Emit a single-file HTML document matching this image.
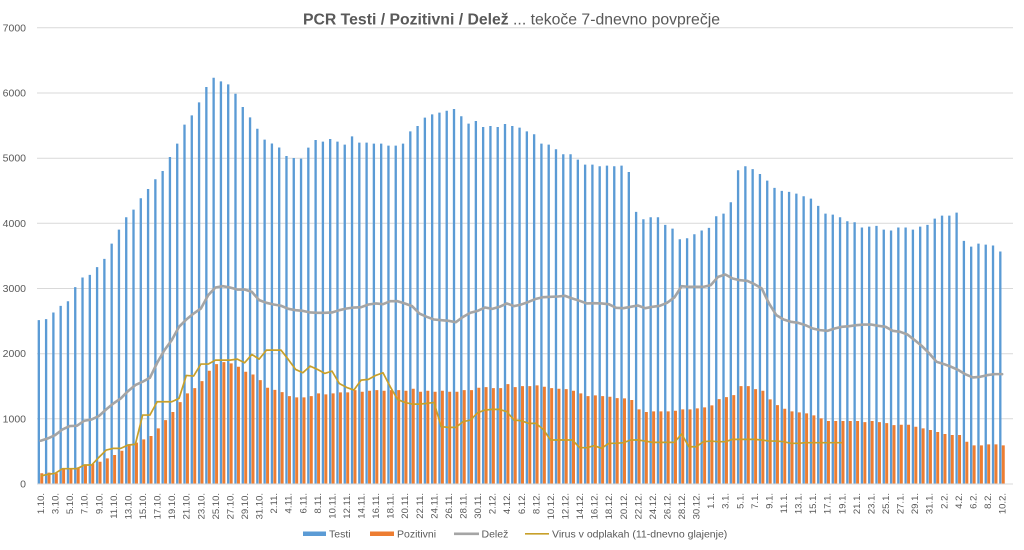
<!DOCTYPE html>
<html>
<head>
<meta charset="utf-8">
<style>
html,body{margin:0;padding:0;background:#fff;}
svg{display:block;font-family:"Liberation Sans",sans-serif;}
</style>
</head>
<body>
<svg width="1024" height="550" viewBox="0 0 1024 550" xmlns="http://www.w3.org/2000/svg">
<rect width="1024" height="550" fill="#fff"/>
<text x="303" y="24.5" font-size="15.5" fill="#595959" textLength="417" lengthAdjust="spacingAndGlyphs"><tspan font-weight="bold">PCR Testi / Pozitivni / Delež</tspan> ... tekoče 7-dnevno povprečje</text>
<g stroke="#d9d9d9" stroke-width="1">
<line x1="37" x2="1013" y1="27.8" y2="27.8"/>
<line x1="37" x2="1013" y1="93" y2="93"/>
<line x1="37" x2="1013" y1="158.2" y2="158.2"/>
<line x1="37" x2="1013" y1="223.3" y2="223.3"/>
<line x1="37" x2="1013" y1="288.5" y2="288.5"/>
<line x1="37" x2="1013" y1="353.7" y2="353.7"/>
<line x1="37" x2="1013" y1="418.8" y2="418.8"/>
</g>
<g font-size="10.5" fill="#595959" text-anchor="end">
<text x="26" y="487.5">0</text>
<text x="26" y="422.3">1000</text>
<text x="26" y="357.2">2000</text>
<text x="26" y="292">3000</text>
<text x="26" y="226.8">4000</text>
<text x="26" y="161.7">5000</text>
<text x="26" y="96.5">6000</text>
<text x="26" y="31.3">7000</text>
</g>
<g transform="translate(37,484) scale(7.284,-0.06517)">
<path fill="#5B9BD5" d="M0.09,0v2514h.32v-2514m.68,0v2530h.32v-2530m.68,0v2632h.32v-2632m.68,0v2734h.32v-2734m.68,0v2805h.32v-2805m.68,0v3020h.32v-3020m.68,0v3168h.32v-3168m.68,0v3209h.32v-3209m.68,0v3327h.32v-3327m.68,0v3454h.32v-3454m.68,0v3689h.32v-3689m.68,0v3904h.32v-3904m.68,0v4093h.32v-4093m.68,0v4211h.32v-4211m.68,0v4384h.32v-4384m.68,0v4527h.32v-4527m.68,0v4676h.32v-4676m.68,0v4803h.32v-4803m.68,0v5018h.32v-5018m.68,0v5222h.32v-5222m.68,0v5514h.32v-5514m.68,0v5657h.32v-5657m.68,0v5856h.32v-5856m.68,0v6091h.32v-6091m.68,0v6234h.32v-6234m.68,0v6178h.32v-6178m.68,0v6132h.32v-6132m.68,0v5989h.32v-5989m.68,0v5785h.32v-5785m.68,0v5626h.32v-5626m.68,0v5452h.32v-5452m.68,0v5284h.32v-5284m.68,0v5225h.32v-5225m.68,0v5164h.32v-5164m.68,0v5033h.32v-5033m.68,0v5003h.32v-5003m.68,0v4993h.32v-4993m.68,0v5161h.32v-5161m.68,0v5279h.32v-5279m.68,0v5253h.32v-5253m.68,0v5294h.32v-5294m.68,0v5253h.32v-5253m.68,0v5207h.32v-5207m.68,0v5335h.32v-5335m.68,0v5238h.32v-5238m.68,0v5238h.32v-5238m.68,0v5222h.32v-5222m.68,0v5222h.32v-5222m.68,0v5192h.32v-5192m.68,0v5192h.32v-5192m.68,0v5222h.32v-5222m.68,0v5411h.32v-5411m.68,0v5493h.32v-5493m.68,0v5621h.32v-5621m.68,0v5672h.32v-5672m.68,0v5698h.32v-5698m.68,0v5728h.32v-5728m.68,0v5754h.32v-5754m.68,0v5642h.32v-5642m.68,0v5529h.32v-5529m.68,0v5570h.32v-5570m.68,0v5478h.32v-5478m.68,0v5493h.32v-5493m.68,0v5478h.32v-5478m.68,0v5524h.32v-5524m.68,0v5493h.32v-5493m.68,0v5468h.32v-5468m.68,0v5411h.32v-5411m.68,0v5366h.32v-5366m.68,0v5222h.32v-5222m.68,0v5207h.32v-5207m.68,0v5136h.32v-5136m.68,0v5059h.32v-5059m.68,0v5059h.32v-5059m.68,0v4977h.32v-4977m.68,0v4900h.32v-4900m.68,0v4900h.32v-4900m.68,0v4875h.32v-4875m.68,0v4885h.32v-4885m.68,0v4875h.32v-4875m.68,0v4885h.32v-4885m.68,0v4788h.32v-4788m.68,0v4175h.32v-4175m.68,0v4062h.32v-4062m.68,0v4093h.32v-4093m.68,0v4093h.32v-4093m.68,0v3976h.32v-3976m.68,0v3919h.32v-3919m.68,0v3756h.32v-3756m.68,0v3771h.32v-3771m.68,0v3833h.32v-3833m.68,0v3889h.32v-3889m.68,0v3930h.32v-3930m.68,0v4108h.32v-4108m.68,0v4149h.32v-4149m.68,0v4323h.32v-4323m.68,0v4814h.32v-4814m.68,0v4875h.32v-4875m.68,0v4832h.32v-4832m.68,0v4757h.32v-4757m.68,0v4655h.32v-4655m.68,0v4543h.32v-4543m.68,0v4497h.32v-4497m.68,0v4482h.32v-4482m.68,0v4456h.32v-4456m.68,0v4415h.32v-4415m.68,0v4379h.32v-4379m.68,0v4267h.32v-4267m.68,0v4149h.32v-4149m.68,0v4134h.32v-4134m.68,0v4093h.32v-4093m.68,0v4032h.32v-4032m.68,0v4016h.32v-4016m.68,0v3935h.32v-3935m.68,0v3950h.32v-3950m.68,0v3960h.32v-3960m.68,0v3904h.32v-3904m.68,0v3889h.32v-3889m.68,0v3935h.32v-3935m.68,0v3935h.32v-3935m.68,0v3904h.32v-3904m.68,0v3950h.32v-3950m.68,0v3976h.32v-3976m.68,0v4073h.32v-4073m.68,0v4119h.32v-4119m.68,0v4119h.32v-4119m.68,0v4165h.32v-4165m.68,0v3730h.32v-3730m.68,0v3643h.32v-3643m.68,0v3689h.32v-3689m.68,0v3674h.32v-3674m.68,0v3659h.32v-3659m.68,0v3567h.32v-3567z"/>
<path fill="#ED7D31" d="M0.45,0v164h.41v-164m.59,0v174h.41v-174m.59,0v164h.41v-164m.59,0v240h.41v-240m.59,0v240h.41v-240m.59,0v255h.41v-255m.59,0v290h.41v-290m.59,0v307h.41v-307m.59,0v342h.41v-342m.59,0v393h.41v-393m.59,0v445h.41v-445m.59,0v511h.41v-511m.59,0v598h.41v-598m.59,0v634h.41v-634m.59,0v685h.41v-685m.59,0v736h.41v-736m.59,0v853h.41v-853m.59,0v981h.41v-981m.59,0v1104h.41v-1104m.59,0v1257h.41v-1257m.59,0v1390h.41v-1390m.59,0v1472h.41v-1472m.59,0v1579h.41v-1579m.59,0v1737h.41v-1737m.59,0v1840h.41v-1840m.59,0v1870h.41v-1870m.59,0v1850h.41v-1850m.59,0v1799h.41v-1799m.59,0v1722h.41v-1722m.59,0v1681h.41v-1681m.59,0v1594h.41v-1594m.59,0v1477h.41v-1477m.59,0v1445h.41v-1445m.59,0v1410h.41v-1410m.59,0v1349h.41v-1349m.59,0v1329h.41v-1329m.59,0v1329h.41v-1329m.59,0v1349h.41v-1349m.59,0v1390h.41v-1390m.59,0v1375h.41v-1375m.59,0v1390h.41v-1390m.59,0v1405h.41v-1405m.59,0v1405h.41v-1405m.59,0v1441h.41v-1441m.59,0v1415h.41v-1415m.59,0v1431h.41v-1431m.59,0v1441h.41v-1441m.59,0v1431h.41v-1431m.59,0v1441h.41v-1441m.59,0v1441h.41v-1441m.59,0v1431h.41v-1431m.59,0v1461h.41v-1461m.59,0v1415h.41v-1415m.59,0v1431h.41v-1431m.59,0v1415h.41v-1415m.59,0v1431h.41v-1431m.59,0v1415h.41v-1415m.59,0v1415h.41v-1415m.59,0v1441h.41v-1441m.59,0v1441h.41v-1441m.59,0v1477h.41v-1477m.59,0v1487h.41v-1487m.59,0v1472h.41v-1472m.59,0v1472h.41v-1472m.59,0v1533h.41v-1533m.59,0v1487h.41v-1487m.59,0v1502h.41v-1502m.59,0v1502h.41v-1502m.59,0v1513h.41v-1513m.59,0v1492h.41v-1492m.59,0v1472h.41v-1472m.59,0v1461h.41v-1461m.59,0v1456h.41v-1456m.59,0v1431h.41v-1431m.59,0v1390h.41v-1390m.59,0v1349h.41v-1349m.59,0v1359h.41v-1359m.59,0v1349h.41v-1349m.59,0v1339h.41v-1339m.59,0v1318h.41v-1318m.59,0v1313h.41v-1313m.59,0v1288h.41v-1288m.59,0v1145h.41v-1145m.59,0v1104h.41v-1104m.59,0v1114h.41v-1114m.59,0v1114h.41v-1114m.59,0v1114h.41v-1114m.59,0v1124h.41v-1124m.59,0v1145h.41v-1145m.59,0v1145h.41v-1145m.59,0v1160h.41v-1160m.59,0v1175h.41v-1175m.59,0v1206h.41v-1206m.59,0v1303h.41v-1303m.59,0v1334h.41v-1334m.59,0v1364h.41v-1364m.59,0v1502h.41v-1502m.59,0v1502h.41v-1502m.59,0v1456h.41v-1456m.59,0v1431h.41v-1431m.59,0v1298h.41v-1298m.59,0v1211h.41v-1211m.59,0v1155h.41v-1155m.59,0v1114h.41v-1114m.59,0v1099h.41v-1099m.59,0v1083h.41v-1083m.59,0v1053h.41v-1053m.59,0v1007h.41v-1007m.59,0v966h.41v-966m.59,0v966h.41v-966m.59,0v966h.41v-966m.59,0v966h.41v-966m.59,0v966h.41v-966m.59,0v950h.41v-950m.59,0v966h.41v-966m.59,0v950h.41v-950m.59,0v935h.41v-935m.59,0v904h.41v-904m.59,0v909h.41v-909m.59,0v909h.41v-909m.59,0v879h.41v-879m.59,0v853h.41v-853m.59,0v828h.41v-828m.59,0v797h.41v-797m.59,0v767h.41v-767m.59,0v751h.41v-751m.59,0v751h.41v-751m.59,0v649h.41v-649m.59,0v593h.41v-593m.59,0v593h.41v-593m.59,0v608h.41v-608m.59,0v608h.41v-608m.59,0v593h.41v-593z"/>
<polyline fill="none" stroke="#A5A5A5" stroke-width="2.6" stroke-linejoin="round" stroke-linecap="round" vector-effect="non-scaling-stroke" points="0.5,664 1.5,700 2.5,751 3.5,838 4.5,889 5.5,894 6.5,971 7.5,991 8.5,1042 9.5,1145 10.5,1237 11.5,1313 12.5,1426 13.5,1518 14.5,1569 15.5,1630 16.5,1860 17.5,2054 18.5,2208 19.5,2412 20.5,2524 21.5,2616 22.5,2693 23.5,2897 24.5,3015 25.5,3035 26.5,3015 27.5,2984 28.5,2984 29.5,2948 30.5,2821 31.5,2780 32.5,2754 33.5,2735 34.5,2688 35.5,2667 36.5,2657 37.5,2632 38.5,2627 39.5,2627 40.5,2632 41.5,2667 42.5,2693 43.5,2708 44.5,2713 45.5,2754 46.5,2770 47.5,2759 48.5,2805 49.5,2805 50.5,2770 51.5,2729 52.5,2616 53.5,2565 54.5,2524 55.5,2514 56.5,2504 57.5,2483 58.5,2565 59.5,2627 60.5,2657 61.5,2708 62.5,2688 63.5,2719 64.5,2770 65.5,2729 66.5,2755 67.5,2795 68.5,2841 69.5,2867 70.5,2872 71.5,2877 72.5,2887 73.5,2846 74.5,2811 75.5,2770 76.5,2775 77.5,2770 78.5,2759 79.5,2703 80.5,2698 81.5,2719 82.5,2739 83.5,2698 84.5,2719 85.5,2734 86.5,2780 87.5,2862 88.5,3035 89.5,3025 90.5,3025 91.5,3025 92.5,3051 93.5,3178 94.5,3214 95.5,3153 96.5,3127 97.5,3117 98.5,3066 99.5,3000 100.5,2770 101.5,2591 102.5,2524 103.5,2489 104.5,2473 105.5,2437 106.5,2386 107.5,2361 108.5,2350 109.5,2386 110.5,2412 111.5,2422 112.5,2437 113.5,2447 114.5,2447 115.5,2427 116.5,2412 117.5,2350 118.5,2335 119.5,2294 120.5,2207 121.5,2115 122.5,2003 123.5,1875 124.5,1840 125.5,1799 126.5,1748 127.5,1681 128.5,1635 129.5,1645 130.5,1671 131.5,1686 132.5,1686"/>
<polyline fill="none" stroke="#C8A02A" stroke-width="1.7" stroke-linejoin="round" vector-effect="non-scaling-stroke" points="0.5,123 1.5,148 2.5,164 3.5,235 4.5,235 5.5,235 6.5,291 7.5,291 8.5,409 9.5,521 10.5,547 11.5,547 12.5,598 13.5,608 14.5,1058 15.5,1058 16.5,1262 17.5,1262 18.5,1262 19.5,1313 20.5,1666 21.5,1656 22.5,1840 23.5,1840 24.5,1901 25.5,1901 26.5,1901 27.5,1916 28.5,1860 29.5,1988 30.5,1916 31.5,2054 32.5,2054 33.5,2054 34.5,1911 35.5,1758 36.5,1707 37.5,1809 38.5,1758 39.5,1697 40.5,1732 41.5,1543 42.5,1482 43.5,1441 44.5,1594 45.5,1605 46.5,1666 47.5,1707 48.5,1492 49.5,1298 50.5,1252 51.5,1226 52.5,1226 53.5,1237 54.5,1252 55.5,879 56.5,869 57.5,869 58.5,956 59.5,981 60.5,1094 61.5,1134 62.5,1145 63.5,1145 64.5,1109 65.5,981 66.5,971 67.5,930 68.5,930 69.5,838 70.5,675 71.5,675 72.5,675 73.5,675 74.5,557 75.5,557 76.5,588 77.5,547 78.5,624 79.5,624 80.5,634 81.5,675 82.5,675 83.5,659 84.5,639 85.5,639 86.5,639 87.5,639 88.5,767 89.5,572 90.5,572 91.5,649 92.5,659 93.5,649 94.5,649 95.5,685 96.5,685 97.5,685 98.5,685 99.5,675 100.5,659 101.5,659 102.5,649 103.5,624 104.5,624 105.5,634 106.5,634 107.5,634 108.5,634 109.5,634 110.5,634"/>
</g>
<line x1="37" x2="1013" y1="484" y2="484" stroke="#d9d9d9" stroke-width="1"/>
<g font-size="9.5" fill="#595959" text-anchor="end" transform="translate(3.4,0)">
<text transform="translate(40.64,493) rotate(-90)">1.10.</text>
<text transform="translate(55.21,493) rotate(-90)">3.10.</text>
<text transform="translate(69.78,493) rotate(-90)">5.10.</text>
<text transform="translate(84.34,493) rotate(-90)">7.10.</text>
<text transform="translate(98.91,493) rotate(-90)">9.10.</text>
<text transform="translate(113.48,493) rotate(-90)">11.10.</text>
<text transform="translate(128.05,493) rotate(-90)">13.10.</text>
<text transform="translate(142.62,493) rotate(-90)">15.10.</text>
<text transform="translate(157.18,493) rotate(-90)">17.10.</text>
<text transform="translate(171.75,493) rotate(-90)">19.10.</text>
<text transform="translate(186.32,493) rotate(-90)">21.10.</text>
<text transform="translate(200.89,493) rotate(-90)">23.10.</text>
<text transform="translate(215.46,493) rotate(-90)">25.10.</text>
<text transform="translate(230.02,493) rotate(-90)">27.10.</text>
<text transform="translate(244.59,493) rotate(-90)">29.10.</text>
<text transform="translate(259.16,493) rotate(-90)">31.10.</text>
<text transform="translate(273.73,493) rotate(-90)">2.11.</text>
<text transform="translate(288.30,493) rotate(-90)">4.11.</text>
<text transform="translate(302.86,493) rotate(-90)">6.11.</text>
<text transform="translate(317.43,493) rotate(-90)">8.11.</text>
<text transform="translate(332.00,493) rotate(-90)">10.11.</text>
<text transform="translate(346.57,493) rotate(-90)">12.11.</text>
<text transform="translate(361.14,493) rotate(-90)">14.11.</text>
<text transform="translate(375.70,493) rotate(-90)">16.11.</text>
<text transform="translate(390.27,493) rotate(-90)">18.11.</text>
<text transform="translate(404.84,493) rotate(-90)">20.11.</text>
<text transform="translate(419.41,493) rotate(-90)">22.11.</text>
<text transform="translate(433.98,493) rotate(-90)">24.11.</text>
<text transform="translate(448.54,493) rotate(-90)">26.11.</text>
<text transform="translate(463.11,493) rotate(-90)">28.11.</text>
<text transform="translate(477.68,493) rotate(-90)">30.11.</text>
<text transform="translate(492.25,493) rotate(-90)">2.12.</text>
<text transform="translate(506.82,493) rotate(-90)">4.12.</text>
<text transform="translate(521.38,493) rotate(-90)">6.12.</text>
<text transform="translate(535.95,493) rotate(-90)">8.12.</text>
<text transform="translate(550.52,493) rotate(-90)">10.12.</text>
<text transform="translate(565.09,493) rotate(-90)">12.12.</text>
<text transform="translate(579.66,493) rotate(-90)">14.12.</text>
<text transform="translate(594.22,493) rotate(-90)">16.12.</text>
<text transform="translate(608.79,493) rotate(-90)">18.12.</text>
<text transform="translate(623.36,493) rotate(-90)">20.12.</text>
<text transform="translate(637.93,493) rotate(-90)">22.12.</text>
<text transform="translate(652.50,493) rotate(-90)">24.12.</text>
<text transform="translate(667.06,493) rotate(-90)">26.12.</text>
<text transform="translate(681.63,493) rotate(-90)">28.12.</text>
<text transform="translate(696.20,493) rotate(-90)">30.12.</text>
<text transform="translate(710.77,493) rotate(-90)">1.1.</text>
<text transform="translate(725.34,493) rotate(-90)">3.1.</text>
<text transform="translate(739.90,493) rotate(-90)">5.1.</text>
<text transform="translate(754.47,493) rotate(-90)">7.1.</text>
<text transform="translate(769.04,493) rotate(-90)">9.1.</text>
<text transform="translate(783.61,493) rotate(-90)">11.1.</text>
<text transform="translate(798.18,493) rotate(-90)">13.1.</text>
<text transform="translate(812.74,493) rotate(-90)">15.1.</text>
<text transform="translate(827.31,493) rotate(-90)">17.1.</text>
<text transform="translate(841.88,493) rotate(-90)">19.1.</text>
<text transform="translate(856.45,493) rotate(-90)">21.1.</text>
<text transform="translate(871.02,493) rotate(-90)">23.1.</text>
<text transform="translate(885.58,493) rotate(-90)">25.1.</text>
<text transform="translate(900.15,493) rotate(-90)">27.1.</text>
<text transform="translate(914.72,493) rotate(-90)">29.1.</text>
<text transform="translate(929.29,493) rotate(-90)">31.1.</text>
<text transform="translate(943.86,493) rotate(-90)">2.2.</text>
<text transform="translate(958.42,493) rotate(-90)">4.2.</text>
<text transform="translate(972.99,493) rotate(-90)">6.2.</text>
<text transform="translate(987.56,493) rotate(-90)">8.2.</text>
<text transform="translate(1002.13,493) rotate(-90)">10.2.</text>
</g>
<rect x="303" y="531.5" width="23" height="4.5" fill="#5B9BD5"/>
<rect x="370" y="531.5" width="24" height="4.5" fill="#ED7D31"/>
<line x1="454" x2="479" y1="533.8" y2="533.8" stroke="#A5A5A5" stroke-width="2.6"/>
<line x1="525" x2="549" y1="533.8" y2="533.8" stroke="#C8A02A" stroke-width="1.7"/>
<g font-size="10.5" fill="#595959">
<text x="329" y="537.3">Testi</text>
<text x="397" y="537.3">Pozitivni</text>
<text x="481.5" y="537.3">Delež</text>
<text x="552" y="537.3">Virus v odplakah (11-dnevno glajenje)</text>
</g>
</svg>
</body>
</html>
